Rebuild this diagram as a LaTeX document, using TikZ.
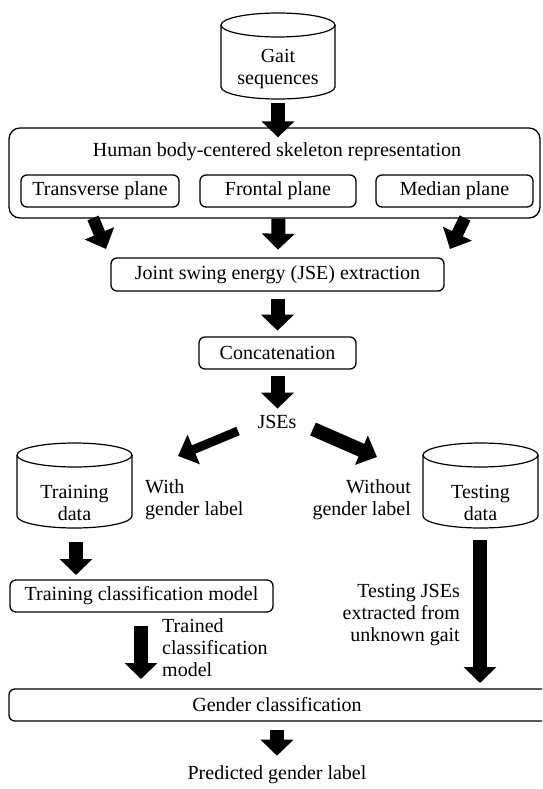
\documentclass[tikz,border=0pt]{standalone}
\usepackage{fontspec}
\setmainfont{Liberation Serif}
\usetikzlibrary{arrows.meta,calc}
\begin{document}
\begin{tikzpicture}[x=1pt,y=1pt,
  lbl/.style={font=\fontsize{20}{22}\selectfont, inner sep=0pt, align=center},
  boxed/.style={lbl, draw, line width=1.3pt, rounded corners=6pt, minimum height=32pt},
  cyl/.style={line width=1.2pt},
  barrow/.style={line width=14pt, -{Triangle[width=32pt,length=16pt]}},
  darrow/.style={line width=#1, -{Triangle[width=31pt,length=17pt]}}]
\clip (0,0) rectangle (542,-789);
% Gait cylinder
\draw[cyl] (221,-25) -- (221,-87) arc[start angle=180,end angle=360,x radius=57,y radius=12] -- (335,-25);
\draw[cyl] (278,-25) ellipse[x radius=57,y radius=12];
\node[lbl] (gait) at (278,-69) {Gait\\sequences};
\coordinate (gaitb) at (278,-100);
% big box
\node[draw, line width=1.3pt, rounded corners=11pt, minimum width=531pt, minimum height=90pt, inner sep=0pt] (big) at (274.5,-173) {};
\node[lbl] (title) at (277,-152) {Human body-centered skeleton representation};
\node[boxed, minimum width=158pt] (trans) at (100,-191) {Transverse plane};
\node[boxed, minimum width=156pt] (front) at (278,-191) {Frontal plane};
\node[boxed, minimum width=157pt] (median) at (454.5,-191) {Median plane};
% JSE
\node[boxed, minimum width=333pt, minimum height=33pt] (jse) at (277.5,-274.5) {Joint swing energy (JSE) extraction};
\node[boxed, minimum width=157pt] (concat) at (277.5,-353) {Concatenation};
\node[lbl] (jses) at (277,-422) {JSEs};
% Training cylinder
\draw[cyl] (17,-455) -- (17,-516) arc[start angle=180,end angle=360,x radius=57.5,y radius=12] -- (132,-455);
\draw[cyl] (74.5,-455) ellipse[x radius=57.5,y radius=12];
\node[lbl] (train) at (74.5,-503) {Training\\data};
% Testing cylinder
\draw[cyl] (423,-455) -- (423,-516) arc[start angle=180,end angle=360,x radius=57.5,y radius=12] -- (538,-455);
\draw[cyl] (480.5,-455) ellipse[x radius=57.5,y radius=12];
\node[lbl] (test) at (480.5,-503) {Testing\\data};
\node[lbl, align=left, anchor=west] (with) at (145,-500) {With\\gender label};
\node[lbl, align=right, anchor=east] (without) at (411,-500) {Without\\gender label};
% Training model
\node[boxed, minimum width=263pt] (model) at (141.5,-596) {Training classification model};
\node[lbl, align=left, anchor=west] (trained) at (162,-648) {Trained\\classification\\model};
\node[lbl, align=right, anchor=east] (testjse) at (460,-615) {Testing JSEs\\extracted from\\unknown gait};
% Gender classification
\node[boxed, minimum width=539pt] (gender) at (278.5,-705) {};
\node[lbl] (gtext) at (277,-705) {Gender classification};
\node[lbl] (pred) at (277,-775) {Predicted gender label};
% arrows
\draw[barrow] ([yshift=-3pt]gaitb) -- ([yshift=-10pt]big.north -| gaitb);
\coordinate (lt) at (93,-218); \coordinate (lh) at (106,-249);
\coordinate (rt) at (465,-218); \coordinate (rh) at (450,-249);
\draw[darrow=12pt] (lt) -- (lh);
\draw[darrow=12pt] (rt) -- (rh);
\draw[barrow] ([xshift=0.5pt]big.south -| gaitb) -- ([yshift=-31pt]big.south -| gaitb);
\draw[barrow] ([yshift=-7pt]jse.south) -- ([yshift=-39pt]jse.south);
\draw[barrow] ([yshift=-6pt]concat.south) -- ([yshift=-39pt]concat.south);
\coordinate (jl) at (238,-431); \coordinate (jlh) at (178,-456);
\coordinate (jr) at (313,-429); \coordinate (jrh) at (377,-457);
\draw[darrow=9pt] (jl) -- (jlh);
\draw[darrow=14pt] (jr) -- (jrh);
\draw[barrow] (76,-542) -- (76,-575);
\draw[barrow] (141,-626) -- (141,-679);
\draw[barrow] (480,-540) -- (480,-683);
\draw[barrow] ([yshift=-8pt]gender.south -| pred) -- ([yshift=10pt]pred.north);
\end{tikzpicture}
\end{document}
